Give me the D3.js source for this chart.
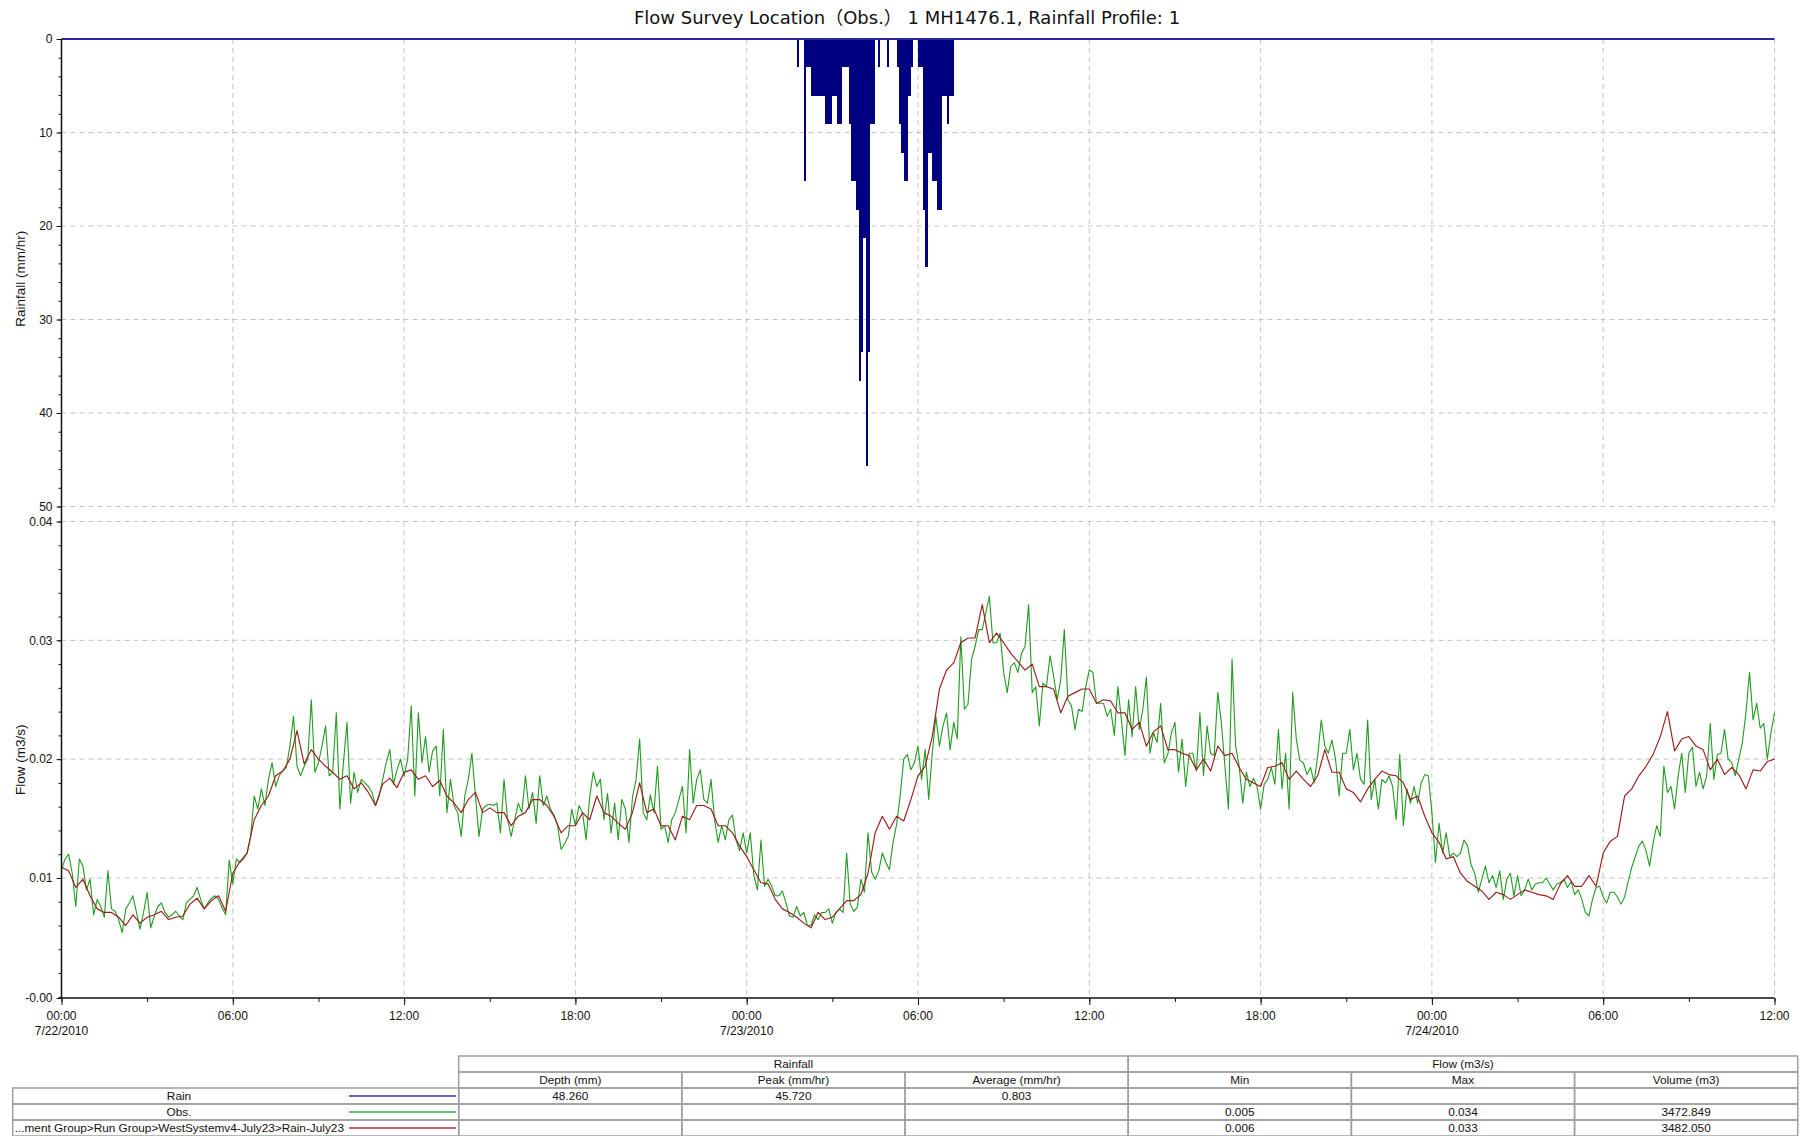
<!DOCTYPE html>
<html>
<head>
<meta charset="utf-8">
<title>Flow Survey Location 1 MH1476.1</title>
<script src="https://cdn.jsdelivr.net/npm/d3@7"></script>
<style>
  html, body { margin: 0; padding: 0; background: #fff; }
  svg { display: block; }
  text { font-family: "Liberation Sans", Arial, "Noto Sans CJK SC", sans-serif; fill: #111; }
</style>
</head>
<body>
<svg id="chart" width="1807" height="1136"></svg>
<script>
// ---------------- data ----------------
const chartTitle = "Flow Survey Location\uFF08Obs.\uFF09 1 MH1476.1, Rainfall Profile: 1";

const periodStart = "2010-07-22 00:00";
const periodEnd = "2010-07-24 12:00";

// Rain profile: 5-minute intensities (mm/hr) starting at rainStart
const rainStart = "2010-07-23 01:45";
const rainStepMinutes = 5;
const rainIntensity = [
  3.048, 0, 0, 15.24, 3.048, 3.048, 6.096, 6.096, 6.096, 6.096, 6.096, 6.096,
  9.144, 9.144, 9.144, 6.096, 6.096, 9.144, 9.144, 3.048, 3.048, 3.048, 9.144, 15.24,
  15.24, 18.288, 36.576, 33.528, 21.336, 45.72, 33.528, 9.144, 9.144, 0, 3.048, 0,
  0, 0, 3.048, 0, 0, 0, 3.048, 9.144, 12.192, 15.24, 15.24, 6.096,
  3.048, 0, 0, 3.048, 3.048, 18.288, 24.384, 12.192, 12.192, 15.24, 15.24, 18.288,
  18.288, 6.096, 6.096, 9.144, 6.096, 6.096
];

// Observed flow (m3/s), 7.5-minute readings from flowStart
const flowStart = "2010-07-22 00:00";
const obsStepSeconds = 450;
const flowObs = [
  0.0107, 0.0116, 0.0120, 0.0104, 0.0076, 0.0116, 0.0110, 0.0090, 0.0099, 0.0069,
  0.0082, 0.0076, 0.0067, 0.0106, 0.0074, 0.0072, 0.0065, 0.0054, 0.0074, 0.0079,
  0.0085, 0.0071, 0.0057, 0.0071, 0.0088, 0.0058, 0.0068, 0.0076, 0.0079, 0.0071,
  0.0067, 0.0069, 0.0072, 0.0068, 0.0065, 0.0079, 0.0082, 0.0085, 0.0092, 0.0082,
  0.0074, 0.0079, 0.0083, 0.0085, 0.0082, 0.0075, 0.0069, 0.0115, 0.0095, 0.0116,
  0.0113, 0.0116, 0.0121, 0.0135, 0.0169, 0.0158, 0.0175, 0.0161, 0.0183, 0.0197,
  0.0177, 0.0186, 0.0190, 0.0193, 0.0211, 0.0236, 0.0194, 0.0186, 0.0194, 0.0200,
  0.0250, 0.0189, 0.0197, 0.0211, 0.0228, 0.0186, 0.0189, 0.0239, 0.0158, 0.0197,
  0.0231, 0.0163, 0.0189, 0.0172, 0.0183, 0.0180, 0.0177, 0.0172, 0.0161, 0.0169,
  0.0183, 0.0197, 0.0208, 0.0179, 0.0191, 0.0200, 0.0186, 0.0200, 0.0245, 0.0169,
  0.0239, 0.0197, 0.0219, 0.0189, 0.0207, 0.0211, 0.0169, 0.0225, 0.0155, 0.0183,
  0.0161, 0.0155, 0.0135, 0.0169, 0.0183, 0.0205, 0.0169, 0.0135, 0.0158, 0.0161,
  0.0162,
  0.0161, 0.0163, 0.0138, 0.0183, 0.0149, 0.0135, 0.0149, 0.0163, 0.0155, 0.0186,
  0.0158, 0.0172, 0.0146, 0.0186, 0.0161, 0.0169, 0.0158, 0.0153, 0.0144, 0.0124,
  0.0129, 0.0135, 0.0158, 0.0144, 0.0161, 0.0155, 0.0132, 0.0168, 0.0189, 0.0177,
  0.0183, 0.0149, 0.0171, 0.0138, 0.0163, 0.0132, 0.0166, 0.0158, 0.0130, 0.0168,
  0.0183, 0.0217, 0.0155, 0.0149, 0.0170, 0.0155, 0.0194, 0.0141, 0.0144, 0.0130,
  0.0149, 0.0155, 0.0166, 0.0177, 0.0138, 0.0208, 0.0163, 0.0183, 0.0191, 0.0166,
  0.0163, 0.0183, 0.0149, 0.0130, 0.0144, 0.0132, 0.0149, 0.0153, 0.0132, 0.0123,
  0.0138, 0.0121, 0.0138, 0.0102, 0.0090, 0.0132, 0.0093, 0.0099, 0.0093, 0.0085,
  0.0085, 0.0089, 0.0079, 0.0068, 0.0067, 0.0076, 0.0068, 0.0071, 0.0060, 0.0060,
  0.0069, 0.0065, 0.0071, 0.0071, 0.0074, 0.0062, 0.0071, 0.0074, 0.0071, 0.0121,
  0.0078, 0.0072, 0.0075, 0.0099, 0.0088, 0.0138, 0.0105, 0.0099, 0.0106, 0.0121,
  0.0113, 0.0107, 0.0130, 0.0145, 0.0169, 0.0200, 0.0204, 0.0191, 0.0197, 0.0211,
  0.0183, 0.0208, 0.0166, 0.0205, 0.0236, 0.0211, 0.0228, 0.0239, 0.0208, 0.0231,
  0.0217, 0.0303, 0.0242, 0.0246, 0.0284, 0.0295, 0.0309, 0.0309, 0.0323, 0.0337,
  0.0298, 0.0298, 0.0306, 0.0273, 0.0256, 0.0278, 0.0281, 0.0273, 0.0289, 0.0295,
  0.0330, 0.0256, 0.0261, 0.0228, 0.0264, 0.0261, 0.0287, 0.0270, 0.0250, 0.0267,
  0.0309, 0.0250, 0.0245, 0.0225, 0.0242, 0.0240, 0.0261, 0.0275, 0.0273, 0.0247,
  0.0247, 0.0247, 0.0236, 0.0242, 0.0220, 0.0261, 0.0233, 0.0203, 0.0250, 0.0219,
  0.0261, 0.0225, 0.0242, 0.0269, 0.0205, 0.0222, 0.0214, 0.0247, 0.0197, 0.0204,
  0.0222, 0.0231, 0.0189, 0.0217, 0.0177, 0.0205, 0.0205, 0.0190, 0.0239, 0.0186,
  0.0228, 0.0205, 0.0203, 0.0256, 0.0231, 0.0194, 0.0158, 0.0284, 0.0211, 0.0194,
  0.0163, 0.0189, 0.0177, 0.0184, 0.0177, 0.0158, 0.0179, 0.0183, 0.0193, 0.0179,
  0.0225, 0.0175, 0.0205, 0.0158, 0.0256, 0.0217, 0.0199, 0.0197, 0.0187, 0.0193,
  0.0180, 0.0203, 0.0233, 0.0211, 0.0205, 0.0216, 0.0200, 0.0169, 0.0205, 0.0205,
  0.0225, 0.0191, 0.0205, 0.0183, 0.0179, 0.0233, 0.0166, 0.0183, 0.0158, 0.0183,
  0.0180, 0.0186, 0.0177, 0.0149, 0.0204, 0.0144, 0.0175, 0.0163, 0.0177, 0.0163,
  0.0180, 0.0187, 0.0186, 0.0155, 0.0113, 0.0146, 0.0121, 0.0138, 0.0118, 0.0121,
  0.0118, 0.0121, 0.0132, 0.0127, 0.0111, 0.0104, 0.0088, 0.0099, 0.0110, 0.0096,
  0.0102, 0.0092, 0.0106, 0.0082, 0.0099, 0.0104, 0.0085, 0.0102, 0.0085, 0.0090,
  0.0099, 0.0090, 0.0095, 0.0096, 0.0096, 0.0100, 0.0095, 0.0090, 0.0095, 0.0096,
  0.0099, 0.0092, 0.0097, 0.0086, 0.0090, 0.0082, 0.0071, 0.0068, 0.0082, 0.0092,
  0.0093, 0.0084, 0.0079, 0.0088, 0.0088, 0.0084, 0.0078, 0.0084, 0.0097, 0.0109,
  0.0118, 0.0127, 0.0131, 0.0123, 0.0110, 0.0130, 0.0144, 0.0135, 0.0194, 0.0172,
  0.0177, 0.0158, 0.0186, 0.0205, 0.0172, 0.0205, 0.0210, 0.0177, 0.0189, 0.0175,
  0.0186, 0.0230, 0.0183, 0.0204, 0.0205, 0.0225, 0.0200, 0.0197, 0.0186, 0.0200,
  0.0214, 0.0239, 0.0273, 0.0233, 0.0247, 0.0226, 0.0230, 0.0200, 0.0222, 0.0239
];

// Modelled flow (m3/s), 15-minute steps from flowStart
const modelStepMinutes = 15;
const flowModel = [
  0.0109, 0.0106, 0.0092, 0.0099, 0.0085, 0.0074, 0.0071, 0.0071, 0.0067, 0.0060, 0.0069, 0.0062,
  0.0067, 0.0069, 0.0072, 0.0065, 0.0067, 0.0068, 0.0078, 0.0083, 0.0074, 0.0081, 0.0085, 0.0072,
  0.0104, 0.0114, 0.0121, 0.0149, 0.0161, 0.0169, 0.0186, 0.0190, 0.0200, 0.0224, 0.0196, 0.0208,
  0.0200, 0.0194, 0.0189, 0.0183, 0.0186, 0.0175, 0.0180, 0.0172, 0.0161, 0.0179, 0.0184, 0.0176,
  0.0189, 0.0191, 0.0183, 0.0186, 0.0177, 0.0182, 0.0169, 0.0163, 0.0155, 0.0166, 0.0172, 0.0155,
  0.0159,
  0.0155, 0.0155, 0.0144, 0.0152, 0.0155, 0.0166, 0.0166, 0.0161, 0.0152, 0.0138, 0.0144, 0.0144,
  0.0155, 0.0149, 0.0169, 0.0155, 0.0152, 0.0146, 0.0141, 0.0155, 0.0180, 0.0155, 0.0158, 0.0144,
  0.0144, 0.0132, 0.0152, 0.0149, 0.0161, 0.0161, 0.0158, 0.0144, 0.0144, 0.0138, 0.0127, 0.0118,
  0.0107, 0.0096, 0.0095, 0.0082, 0.0074, 0.0071, 0.0067, 0.0062, 0.0058, 0.0071, 0.0065, 0.0067,
  0.0074, 0.0081, 0.0081, 0.0086, 0.0104, 0.0138, 0.0152, 0.0141, 0.0152, 0.0148, 0.0166, 0.0186,
  0.0194, 0.0219, 0.0259, 0.0275, 0.0281, 0.0298, 0.0302, 0.0302, 0.0330, 0.0298, 0.0306, 0.0298,
  0.0289, 0.0282, 0.0275, 0.0280, 0.0261, 0.0261, 0.0259, 0.0239, 0.0253, 0.0256, 0.0259, 0.0259,
  0.0247, 0.0250, 0.0249, 0.0239, 0.0239, 0.0225, 0.0231, 0.0211, 0.0223, 0.0228, 0.0208, 0.0208,
  0.0205, 0.0203, 0.0191, 0.0200, 0.0190, 0.0211, 0.0203, 0.0205, 0.0193, 0.0183, 0.0180, 0.0177,
  0.0193, 0.0194, 0.0197, 0.0183, 0.0190, 0.0183, 0.0177, 0.0186, 0.0208, 0.0189, 0.0189, 0.0175,
  0.0172, 0.0164, 0.0175, 0.0183, 0.0190, 0.0187, 0.0186, 0.0180, 0.0166, 0.0169, 0.0152, 0.0138,
  0.0130, 0.0116, 0.0118, 0.0104, 0.0097, 0.0093, 0.0089, 0.0082, 0.0088, 0.0086, 0.0082, 0.0086,
  0.0090, 0.0088, 0.0086, 0.0085, 0.0082, 0.0095, 0.0102, 0.0093, 0.0093, 0.0102, 0.0093, 0.0121,
  0.0131, 0.0135, 0.0169, 0.0175, 0.0186, 0.0194, 0.0204, 0.0219, 0.0240, 0.0207, 0.0217, 0.0219,
  0.0211, 0.0208, 0.0191, 0.0200, 0.0187, 0.0193, 0.0187, 0.0175, 0.0191, 0.0190, 0.0198, 0.0200
];

// Axis ticks
const rainTicks = [0, 10, 20, 30, 40, 50];
const rainMinorStep = 2;
const flowTicks = [-0.0001, 0.01, 0.02, 0.03, 0.04];
const flowMinorStep = 0.002;
const timeMajorHours = 6;
const timeMinorHours = 3;

// Summary table
const rainfallHeaders = ["Depth (mm)", "Peak (mm/hr)", "Average (mm/hr)"];
const flowHeaders = ["Min", "Max", "Volume (m3)"];
const groupHeaders = ["Rainfall", "Flow (m3/s)"];
const seriesNames = ["Rain", "Obs.", "...ment Group>Run Group>WestSystemv4-July23>Rain-July23"];
const rainSummary = [48.260, 45.720, 0.803, null, null, null];
const obsSummary = [null, null, null, 0.005, 0.034, 3472.849];
const modelSummary = [null, null, null, 0.006, 0.033, 3482.050];

// ---------------- layout & style ----------------
const L = {
  left: 61.5, right: 1774.5,
  rainTop: 39, rainBottom: 506.5,
  flowTop: 521.5, flowBottom: 998,
  tableTop: 1056, rowH: 16,
  legendLeft: 12.7, tableLeft: 458.7, tableRight: 1797.7,
  swatchX0: 349, swatchX1: 456, nameCenter: 179
};
const colors = {
  rainBar: "#000080", rainLine: "#2a2a9e",
  obs: "#1f9b1f", model: "#9c1c1c",
  grid: "#c4c4c4", axis: "#111", tableLine: "#9e9e9e",
  swatch: ["#3636ac", "#3aa83a", "#b03434"]
};
const fonts = { tick: 12, axisTitle: 13.5, table: 11.8, title: 18 };

const svg = d3.select("#chart");
const parseTime = d3.timeParse("%Y-%m-%d %H:%M");
const t0 = parseTime(periodStart), t1 = parseTime(periodEnd);

const x = d3.scaleTime().domain([t0, t1]).range([L.left, L.right]);
const yRain = d3.scaleLinear().domain([0, 50]).range([L.rainTop, L.rainBottom]);
const yFlow = d3.scaleLinear().domain([flowTicks[0], 0.04]).range([L.flowBottom, L.flowTop]);

const timeMajor = d3.timeHour.every(timeMajorHours).range(t0, d3.timeMinute.offset(t1, 1));
const timeMinor = d3.timeHour.every(timeMinorHours).range(t0, d3.timeMinute.offset(t1, 1));

// ---------------- title ----------------
svg.append("text")
  .attr("x", 907).attr("y", 24)
  .attr("text-anchor", "middle")
  .attr("font-size", fonts.title)
  .style("font-family", "'DejaVu Sans', 'Noto Sans CJK SC', sans-serif")
  .style("white-space", "pre")
  .attr("fill", "#222")
  .text(chartTitle);

// ---------------- grids ----------------
const grid = svg.append("g").attr("stroke", colors.grid).attr("stroke-dasharray", "5,4").attr("stroke-width", 1);
grid.selectAll(".hr").data(rainTicks.filter(d => d > 0)).join("line")
  .attr("x1", L.left).attr("x2", L.right)
  .attr("y1", d => yRain(d)).attr("y2", d => yRain(d));
grid.selectAll(".hf").data(flowTicks.filter(d => d > 0)).join("line")
  .attr("x1", L.left).attr("x2", L.right)
  .attr("y1", d => yFlow(d)).attr("y2", d => yFlow(d));
const vTimes = timeMajor.filter(d => +d > +t0);
[[L.rainTop, L.rainBottom], [L.flowTop, L.flowBottom]].forEach(([a, b]) => {
  grid.append("g").selectAll("line").data(vTimes).join("line")
    .attr("x1", d => x(d)).attr("x2", d => x(d))
    .attr("y1", a).attr("y2", b);
});

// ---------------- rain bars ----------------
const rainT0 = parseTime(rainStart);
const rainData = rainIntensity.map((v, i) => ({
  t: d3.timeMinute.offset(rainT0, i * rainStepMinutes),
  t2: d3.timeMinute.offset(rainT0, (i + 1) * rainStepMinutes),
  v
})).filter(d => d.v > 0);
svg.append("g").attr("shape-rendering", "crispEdges")
  .selectAll("rect").data(rainData).join("rect")
  .attr("x", d => x(d.t))
  .attr("width", d => x(d.t2) - x(d.t))
  .attr("y", yRain(0))
  .attr("height", d => yRain(d.v) - yRain(0))
  .attr("fill", colors.rainBar);
svg.append("line")
  .attr("x1", L.left).attr("x2", L.right)
  .attr("y1", yRain(0)).attr("y2", yRain(0))
  .attr("stroke", colors.rainLine).attr("stroke-width", 2);

// ---------------- flow lines ----------------
const flowT0 = parseTime(flowStart);
const obsPoints = flowObs.map((v, i) => ({ t: d3.timeSecond.offset(flowT0, i * obsStepSeconds), v }));
const modelPoints = flowModel.map((v, i) => ({ t: d3.timeMinute.offset(flowT0, i * modelStepMinutes), v }));
const line = d3.line().x(d => x(d.t)).y(d => yFlow(d.v));
svg.append("path").datum(obsPoints)
  .attr("d", line).attr("fill", "none")
  .attr("stroke", colors.obs).attr("stroke-width", 1.1).attr("stroke-linejoin", "round");
svg.append("path").datum(modelPoints)
  .attr("d", line).attr("fill", "none")
  .attr("stroke", colors.model).attr("stroke-width", 1.15).attr("stroke-linejoin", "round");

// ---------------- axes ----------------
function styleAxis(g) {
  g.attr("font-size", fonts.tick).attr("font-family", null);
  g.selectAll(".domain").remove();
  g.selectAll(".tick line").attr("stroke", colors.axis);
  g.selectAll(".tick text").attr("fill", "#111");
}
svg.append("g").attr("transform", `translate(${L.left},0)`)
  .call(d3.axisLeft(yRain).tickValues(d3.range(0, 50.001, rainMinorStep)).tickSize(3).tickFormat(""))
  .call(styleAxis);
svg.append("g").attr("transform", `translate(${L.left},0)`)
  .call(d3.axisLeft(yRain).tickValues(rainTicks).tickSize(5).tickPadding(4).tickFormat(d3.format("d")))
  .call(styleAxis);
svg.append("g").attr("transform", `translate(${L.left},0)`)
  .call(d3.axisLeft(yFlow).tickValues(d3.range(0, 0.04001, flowMinorStep)).tickSize(3).tickFormat(""))
  .call(styleAxis);
svg.append("g").attr("transform", `translate(${L.left},0)`)
  .call(d3.axisLeft(yFlow).tickValues(flowTicks).tickSize(5).tickPadding(4).tickFormat(d => d.toFixed(2)))
  .call(styleAxis);

svg.append("g").attr("transform", `translate(0,${L.flowBottom})`)
  .call(d3.axisBottom(x).tickValues(timeMinor).tickSize(4).tickFormat(""))
  .call(styleAxis);
svg.append("g").attr("transform", `translate(0,${L.flowBottom})`)
  .call(d3.axisBottom(x).tickValues(timeMajor).tickSize(7).tickFormat(""))
  .call(styleAxis);

// axis lines
svg.append("line").attr("x1", L.left).attr("x2", L.left)
  .attr("y1", L.rainTop).attr("y2", L.flowBottom)
  .attr("stroke", colors.axis).attr("stroke-width", 1.5);
svg.append("line").attr("x1", L.left).attr("x2", L.right)
  .attr("y1", L.flowBottom).attr("y2", L.flowBottom)
  .attr("stroke", colors.axis).attr("stroke-width", 1.5);

// time labels
const fmtHour = d3.timeFormat("%H:%M");
const fmtDate = d3.timeFormat("%-m/%-d/%Y");
const tl = svg.append("g").attr("font-size", fonts.tick).attr("text-anchor", "middle");
tl.selectAll(".h").data(timeMajor).join("text")
  .attr("x", d => x(d)).attr("y", 1020).text(d => fmtHour(d));
tl.selectAll(".d").data(timeMajor.filter(d => d.getHours() === 0)).join("text")
  .attr("x", d => x(d)).attr("y", 1035).text(d => fmtDate(d));

// axis titles
svg.append("text").attr("transform", `translate(25,${(L.rainTop + L.rainBottom) / 2 + 6}) rotate(-90)`)
  .attr("text-anchor", "middle").attr("font-size", fonts.axisTitle).text("Rainfall (mm/hr)");
svg.append("text").attr("transform", `translate(25,${(L.flowTop + L.flowBottom) / 2}) rotate(-90)`)
  .attr("text-anchor", "middle").attr("font-size", fonts.axisTitle).text("Flow (m3/s)");

// ---------------- summary table ----------------
const colEdges = d3.range(7).map(i => L.tableLeft + i * (L.tableRight - L.tableLeft) / 6);
const tbl = svg.append("g").attr("font-size", fonts.table);
function cell(x0, x1, y0, label, anchor) {
  tbl.append("rect").attr("x", x0).attr("y", y0).attr("width", x1 - x0).attr("height", L.rowH)
    .attr("fill", "none").attr("stroke", colors.tableLine).attr("stroke-width", 1.5);
  if (label !== null && label !== undefined) {
    tbl.append("text")
      .attr("x", anchor === "start" ? x0 + 3 : (x0 + x1) / 2)
      .attr("y", y0 + L.rowH / 2 + 4)
      .attr("text-anchor", anchor || "middle")
      .text(label);
  }
}
// group header row
groupHeaders.forEach((g, i) => cell(colEdges[i * 3], colEdges[i * 3 + 3], L.tableTop, g));
// column header row
rainfallHeaders.concat(flowHeaders).forEach((h, i) =>
  cell(colEdges[i], colEdges[i + 1], L.tableTop + L.rowH, h));
// series rows
[rainSummary, obsSummary, modelSummary].forEach((vals, r) => {
  const y0 = L.tableTop + L.rowH * (2 + r);
  tbl.append("rect").attr("x", L.legendLeft).attr("y", y0)
    .attr("width", L.tableLeft - L.legendLeft).attr("height", L.rowH)
    .attr("fill", "none").attr("stroke", colors.tableLine).attr("stroke-width", 1.5);
  const name = tbl.append("text").attr("y", y0 + L.rowH / 2 + 4).text(seriesNames[r]);
  if (name.node().getComputedTextLength() > (L.swatchX0 - L.legendLeft) - 20) {
    name.attr("x", L.legendLeft + 2).attr("text-anchor", "start");
  } else {
    name.attr("x", L.nameCenter).attr("text-anchor", "middle");
  }
  tbl.append("line").attr("x1", L.swatchX0).attr("x2", L.swatchX1)
    .attr("y1", y0 + L.rowH / 2).attr("y2", y0 + L.rowH / 2)
    .attr("stroke", colors.swatch[r]).attr("stroke-width", 1.6);
  vals.forEach((v, i) => cell(colEdges[i], colEdges[i + 1], y0, v === null ? null : v.toFixed(3)));
});
</script>
</body>
</html>
